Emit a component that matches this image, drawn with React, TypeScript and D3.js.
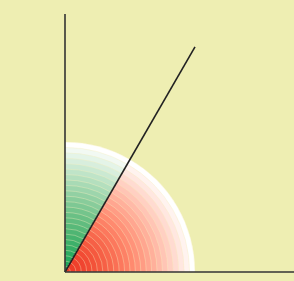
import React from "react";
import * as d3 from "d3";

// sectors measured clockwise from the vertical axis, in degrees
const sectorNames = ["green", "red"];
const sectorStart = [0, 30];
const sectorEnd = [30, 90];
const sectorColors = ["#1aa85c", "#ee3a28"];
const ringCount = 24;
const rayAngle = 30; // the diagonal line, degrees from vertical
const rayLength = 2; // in radii

const W = 294;
const H = 281;
const cx = 65;
const cy = 272;
const R = 130;

export default function App() {
  const r = d3.scaleLinear().domain([0, 1]).range([0, R]);
  const ang = d3.scaleLinear().domain([0, 360]).range([0, 2 * Math.PI]);
  const rings = d3.range(ringCount);
  const arc = d3.arc<any>();

  const ray = ang(rayAngle);

  return (
    <svg
      width={W}
      height={H}
      style={{ position: "absolute", left: 0, top: 0, display: "block" }}
    >
      <rect width={W} height={H} fill="#eeeeb2" />
      <g transform={`translate(${cx},${cy})`}>
        {sectorNames.map((name, si) =>
          rings
            .slice()
            .reverse()
            .map((i) => {
              const t = i / (ringCount - 1);
              const fill = d3.interpolateLab(sectorColors[si], "#ffffff")(Math.pow(t, 1.6));
              return (
                <path
                  key={name + i}
                  d={
                    arc({
                      innerRadius: 0,
                      outerRadius: r((i + 1) / ringCount),
                      startAngle: ang(sectorStart[si]),
                      endAngle: ang(sectorEnd[si]),
                    }) as string
                  }
                  fill={fill}
                  stroke="#f6eec0"
                  strokeWidth={0.7}
                  strokeOpacity={0.55}
                />
              );
            })
        )}
        <line
          x1={0}
          y1={0}
          x2={Math.sin(ray) * r(rayLength)}
          y2={-Math.cos(ray) * r(rayLength)}
          stroke="#222"
          strokeWidth={1.6}
        />
        <line x1={0} y1={0} x2={W - cx} y2={0} stroke="#333" strokeWidth={1.6} />
        <line x1={0} y1={0} x2={0} y2={14 - cy} stroke="#333" strokeWidth={1.6} />
      </g>
    </svg>
  );
}
